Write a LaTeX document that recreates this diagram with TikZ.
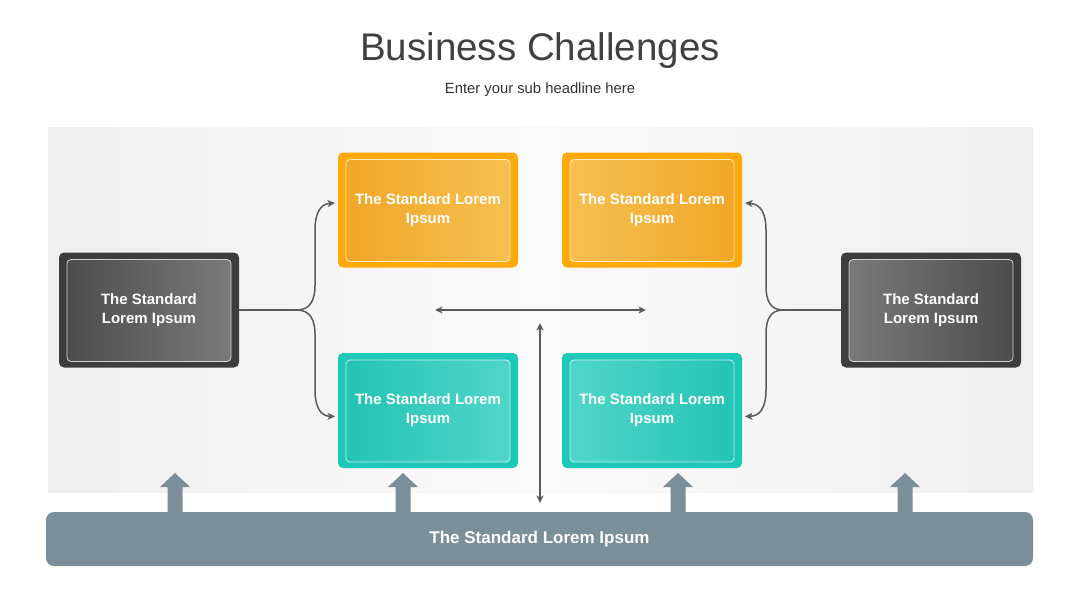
\documentclass[tikz,border=0pt]{standalone}
\usepackage{fontspec}
\setmainfont{Liberation Sans}
\usetikzlibrary{arrows.meta,calc}
\definecolor{panelA}{HTML}{EFEFEF}
\definecolor{panelB}{HTML}{FAFAFA}
\definecolor{orOut}{HTML}{FFA90A}
\definecolor{orL}{HTML}{F0A626}
\definecolor{orR}{HTML}{F8C052}
\definecolor{teOut}{HTML}{1DC8B9}
\definecolor{teL}{HTML}{22C2B4}
\definecolor{teR}{HTML}{52D7CB}
\definecolor{dkOut}{HTML}{3D3D3F}
\definecolor{dkL}{HTML}{4A4A4C}
\definecolor{dkR}{HTML}{7C7C7C}
\definecolor{barcol}{HTML}{7A8F99}
\definecolor{conncol}{HTML}{5B5B5B}
\definecolor{titlecol}{HTML}{404040}
\definecolor{subcol}{HTML}{333333}
\tikzset{
  card/.style n args={3}{rounded corners=5pt, minimum width=180pt, minimum height=115pt,
    inner sep=0pt, outer sep=0pt, text=white, align=center,
    font=\bfseries\fontsize{15}{19}\selectfont, fill=#1,
    path picture={
      \shade[left color=#2, right color=#3, rounded corners=4pt]
        ([shift={(8pt,6pt)}]path picture bounding box.south west) rectangle
        ([shift={(-8pt,-7pt)}]path picture bounding box.north east);
      \draw[white, opacity=0.75, line width=0.8pt, rounded corners=4pt]
        ([shift={(8pt,6pt)}]path picture bounding box.south west) rectangle
        ([shift={(-8pt,-7pt)}]path picture bounding box.north east);
    }},
  conn/.style={draw=conncol, line width=1.5pt},
  tip/.style={-{Stealth[length=7.5pt,width=7pt,inset=2pt]}},
  dtip/.style={{Stealth[length=7.5pt,width=7pt,inset=2pt]}-{Stealth[length=7.5pt,width=7pt,inset=2pt]}},
  bartext/.style={fill=barcol, rounded corners=8pt, minimum width=987pt, minimum height=54pt,
    inner sep=0pt, text=white, font=\bfseries\fontsize{17}{20}\selectfont},
  titletext/.style={text=titlecol, font=\fontsize{38.5}{42}\selectfont, anchor=base, inner sep=0pt},
  subtext/.style={text=subcol, font=\fontsize{14.8}{17}\selectfont, anchor=base, inner sep=0pt}
}
\begin{document}
\begin{tikzpicture}[x=1pt,y=-1pt]
\useasboundingbox (0,0) rectangle (1080,608);
\fill[white] (0,0) rectangle (1080,608);
% panel
\shade[left color=panelA, right color=panelA, middle color=panelB] (48,127) rectangle (1033,492);
% title
\node[titletext] (title) at (540,60) {Business Challenges};
\node[subtext] (sub) at (540,93) {Enter your sub headline here};
% cards
\node[card={orOut}{orL}{orR}] (o1) at (428,210) {The Standard Lorem\\Ipsum};
\node[card={orOut}{orR}{orL}] (o2) at (652,210) {The Standard Lorem\\Ipsum};
\node[card={teOut}{teL}{teR}] (t1) at (428,410.5) {The Standard Lorem\\Ipsum};
\node[card={teOut}{teR}{teL}] (t2) at (652,410.5) {The Standard Lorem\\Ipsum};
\node[card={dkOut}{dkL}{dkR}] (d1) at (149,310) {The Standard\\Lorem Ipsum};
\node[card={dkOut}{dkR}{dkL}] (d2) at (931,310) {The Standard\\Lorem Ipsum};
% bottom bar
\node[bartext] (bar) at (539.5,539) {The Standard Lorem Ipsum};
\foreach \x in {175,403,678,905}
  \fill[barcol] (\x-7.5,514) -- (\x-7.5,487) -- (\x-15,487) -- (\x,473) -- (\x+15,487) -- (\x+7.5,487) -- (\x+7.5,514) -- cycle;
% left brace
\coordinate (lb) at (297,310);
\coordinate (la) at ($(o1.west)+(-3pt,7pt)$);
\coordinate (lc) at ($(t1.west)+(-3pt,-6pt)$);
\draw[conn] (d1.east) -- (lb);
\draw[conn,tip] (lb) .. controls (310,310) and (315,300) .. (315,286) -- (315,230) .. controls (315,214) and (320,204) .. (la);
\draw[conn,tip] (lb) .. controls (310,310) and (315,320) .. (315,334) -- (315,390) .. controls (315,406) and (320,416) .. (lc);
% right brace
\coordinate (rb) at (783,310);
\coordinate (ra) at ($(o2.east)+(3pt,7pt)$);
\coordinate (rc) at ($(t2.east)+(3pt,-6pt)$);
\draw[conn] (d2.west) -- (rb);
\draw[conn,tip] (rb) .. controls (770,310) and (766,300) .. (766,286) -- (766,230) .. controls (766,214) and (761,204) .. (ra);
\draw[conn,tip] (rb) .. controls (770,310) and (766,320) .. (766,334) -- (766,390) .. controls (766,406) and (761,416) .. (rc);
% centre arrows
\coordinate (h1) at (435,310);
\coordinate (h2) at (646,310);
\coordinate (v1) at (540,323);
\coordinate (v2) at (540,503);
\draw[conn,dtip] (h1) -- (h2);
\draw[conn,dtip] (v1) -- (v2);
\end{tikzpicture}
\end{document}
